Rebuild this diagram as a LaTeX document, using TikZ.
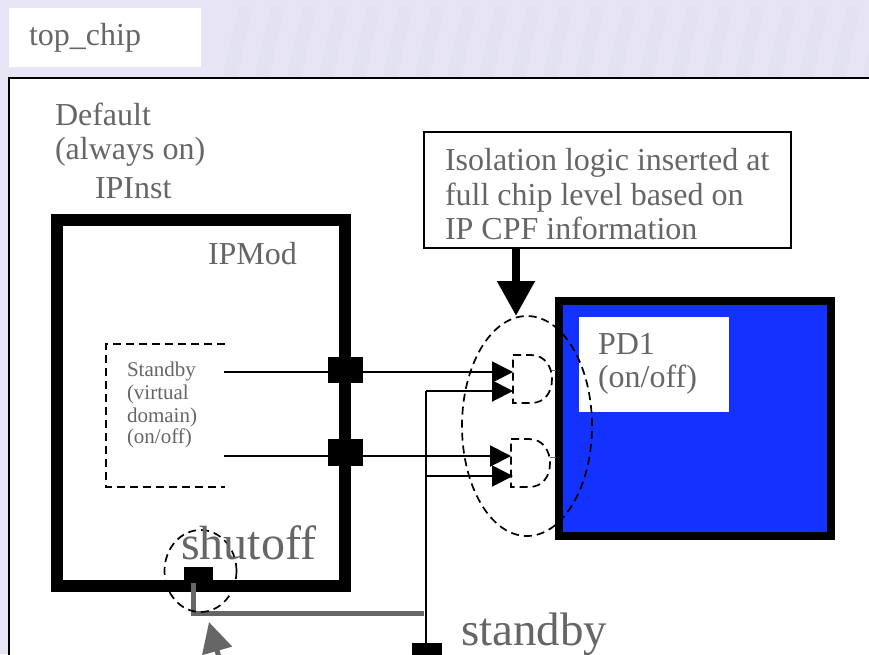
\documentclass[tikz,border=0pt]{standalone}
\usepackage{fontspec}
\setmainfont{Liberation Serif}
\usetikzlibrary{arrows.meta}
\definecolor{slidebg}{HTML}{E7E5F5}
\definecolor{slidestreak}{HTML}{DEE0EF}
\definecolor{slidetxt}{HTML}{666666}
\definecolor{pdblue}{HTML}{1432FF}

\begin{document}
\begin{tikzpicture}[x=1pt,y=-1pt,every node/.style={outer sep=0pt,inner sep=0pt}]

\tikzstyle{label}=[anchor=base west,align=left,text=slidetxt,font=\fontsize{32}{35}\selectfont]
\tikzstyle{pad}=[fill=black,draw=none,rectangle]
\tikzstyle{wire}=[line width=2pt]
\tikzstyle{inwire}=[wire,-{Triangle[length=21pt,width=21pt]}]
\tikzstyle{dashline}=[line width=1.7pt,dash pattern=on 8pt off 5pt]
\tikzstyle{ctrl}=[line width=5pt,draw=slidetxt]

\useasboundingbox (0,0) rectangle (869,654);
\clip (0,0) rectangle (869,654);
\fill [slidebg] (0,0) rectangle (869,654);
\foreach \sx in {230,262,...,870}
  \draw [slidestreak,line width=14pt,opacity=0.5] (\sx+16,6) -- (\sx,76);

% slide frame
\node (title) at (9,8) [anchor=north west,fill=white,minimum width=192pt,minimum height=59pt] {};
\node (titletxt) at (29,45) [label] {top\_chip};
\draw [fill=white,line width=1.5pt] (9,78) rectangle (885,670);

% the IP block
\draw [line width=12pt] (57,220) rectangle (345,586);
\node (default) at (55,125) [label] {Default};
\node (always) at (55,159) [label] {(always on)};
\node (ipinst) at (95,198) [label] {IPInst};
\node (ipmod) at (208,264) [label] {IPMod};

\draw [dashline] (225,344) -- (106,344) -- (106,487) -- (225,487);
\node (vdA) at (127,376) [label,font=\fontsize{21}{23}\selectfont] {Standby};
\node (vdB) at (127,399) [label,font=\fontsize{21}{23}\selectfont] {(virtual};
\node (vdC) at (127,422) [label,font=\fontsize{21}{23}\selectfont] {domain)};
\node (vdD) at (127,443) [label,font=\fontsize{21}{23}\selectfont] {(on/off)};

% PD1
\draw [fill=pdblue,line width=8pt] (559,301) rectangle (831,536);
\node (pdbox) at (579,317) [anchor=north west,fill=white,minimum width=150pt,minimum height=95pt] {};
\node (pdA) at (598,354) [label] {PD1};
\node (pdB) at (598,387) [label] {(on/off)};

% note on the isolation cells
\node (note) at (424,132) [anchor=north west,draw,line width=2pt,minimum width=367pt,minimum height=116pt] {};
\node (noteA) at (445,170) [label] {Isolation logic inserted at};
\node (noteB) at (445,205) [label] {full chip level based on};
\node (noteC) at (445,239) [label] {IP CPF information};
\coordinate (noteout) at (516,248);
\coordinate (isotop) at (516,316);
\draw [line width=8pt,-{Triangle[length=35pt,width=36pt]}] (noteout) -- (isotop);

% ports
\node (portA) at (345.5,370) [pad,minimum width=35pt,minimum height=26pt] {};
\node (portB) at (345.5,452.5) [pad,minimum width=35pt,minimum height=27pt] {};
\node (portS) at (198.5,579.5) [pad,minimum width=29pt,minimum height=25pt] {};
\node (padS) at (427,660) [pad,minimum width=30pt,minimum height=34pt] {};

% isolation gates
\draw [dashline,fill=white] (513,355) -- (531,355) .. controls (545,355) and (552,367) .. (552,379) .. controls (552,392) and (545,403) .. (531,403) -- (513,403) -- cycle;
\draw [dashline,fill=white] (511,439) -- (529,439) .. controls (543,439) and (550,451) .. (550,463) .. controls (550,476) and (543,487) .. (529,487) -- (511,487) -- cycle;
\draw [line width=1pt,slidetxt] (552,370) -- (556,370);
\draw [line width=1pt,slidetxt] (550,457) -- (556,457);

% signals
\coordinate (sbyA) at (224,372);
\coordinate (sbyB) at (224,456);
\coordinate (gateA) at (513,372);
\coordinate (gateB) at (511,456);
\coordinate (gateC) at (513,391);
\coordinate (gateD) at (513,476);
\coordinate (tapC) at (426,391);
\coordinate (tapD) at (426,476);
\draw [inwire] (sbyA) -- (gateA);
\draw [inwire] (sbyB) -- (gateB);
\draw [inwire] (tapC) -- (gateC);
\draw [inwire] (tapD) -- (gateD);
\draw [wire] (tapC) -- (padS.north -| tapC);

% shutoff
\coordinate (ctrlA) at (193,583);
\coordinate (ctrlB) at (193,613);
\coordinate (ctrlC) at (424,613);
\draw [ctrl] (ctrlA) -- (ctrlB) -- (ctrlC);
\coordinate (shutend) at (222,668);
\coordinate (shuttip) at (209,622);
\draw [line width=5pt,draw=slidetxt,fill=slidetxt,-{Triangle[length=30pt,width=30pt,color=slidetxt]}] (shutend) -- (shuttip);

\draw [dashline] (527,426) ellipse (65pt and 110pt);
\draw [dashline] (200.5,571) ellipse (36pt and 41pt);

\node (shutoff) at (181,559) [label,font=\fontsize{48}{50}\selectfont] {shutoff};
\node (standby) at (461,645) [label,font=\fontsize{47}{50}\selectfont] {standby};

\end{tikzpicture}
\end{document}
